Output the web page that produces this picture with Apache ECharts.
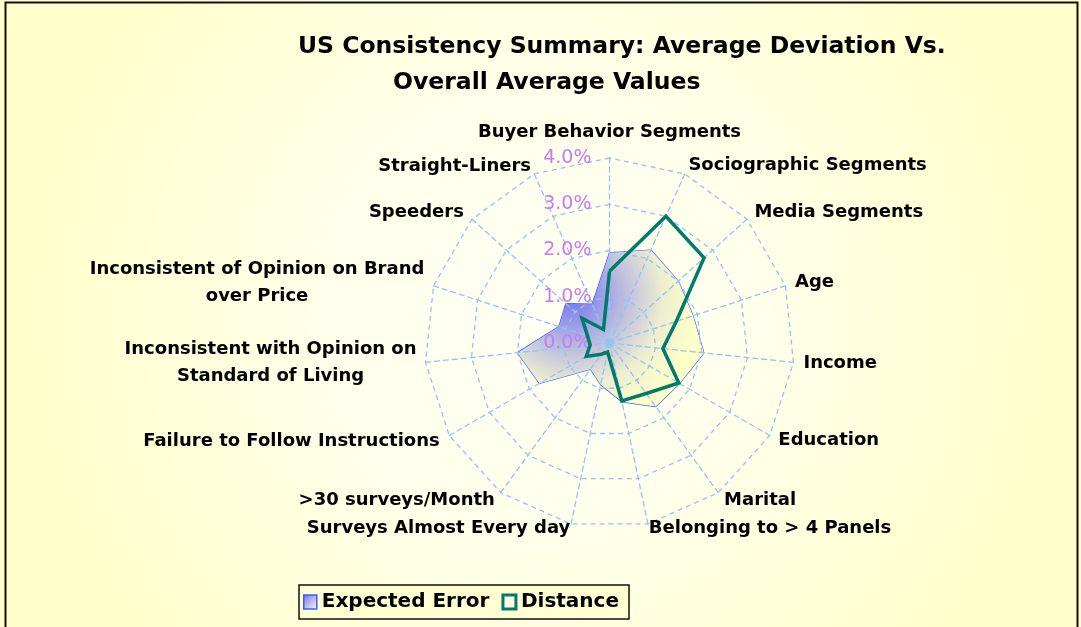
<!DOCTYPE html>
<html><head><meta charset="utf-8">
<script src="https://cdn.jsdelivr.net/npm/echarts@6/dist/echarts.min.js"></script>
<style>html,body{margin:0;padding:0;background:#fff}#c{width:1081px;height:627px}</style>
</head><body><div id="c"></div>
<script>
// ---- data (clockwise from top) ----
const categories = [
  'Buyer Behavior Segments',
  'Sociographic Segments',
  'Media Segments',
  'Age',
  'Income',
  'Education',
  'Marital',
  'Belonging to > 4 Panels',
  'Surveys Almost Every day',
  '>30 surveys/Month',
  'Failure to Follow Instructions',
  'Inconsistent with Opinion on\nStandard of Living',
  'Inconsistent of Opinion on Brand\nover Price',
  'Speeders',
  'Straight-Liners'
];
const expectedError = [1.95, 2.2, 2.0, 1.9, 2.05, 1.75, 1.7, 1.3, 0.92, 0.7, 1.75, 2.0, 1.15, 1.27, 0.92];
const distance      = [1.55, 3.0, 2.75, 1.52, 1.16, 1.73, 1.35, 1.28, 0.2, 0.3, 0.58, 0.42, 0.5, 0.8, 0.32];
const tickLabels = ['0.0%', '1.0%', '2.0%', '3.0%', '4.0%'];
const axisMax = 4;
const titleLines = ['US Consistency Summary: Average Deviation Vs.', 'Overall Average Values'];
const seriesNames = ['Expected Error', 'Distance'];

// label gap from the outer ring (layout only); the two bottom labels sit closer
const nameGaps = [12, 9, 10, 10, 10, 10, 10, 4, 4, 10, 11, 9, 10, 11, 8];

// ECharts radar runs counter-clockwise: reorder so the picture runs clockwise
const order = [0].concat(categories.map((_, i) => i).slice(1).reverse());
const indicator = order.map((i, k) => ({
  name: categories[i], min: 0, max: axisMax, nameGap: nameGaps[i],
  axisLabel: { show: k === 0 }
}));
const eeVals = order.map(i => expectedError[i]);
const diVals = order.map(i => distance[i]);

const BLUE = '#3a5cff', TEAL = '#007b6b', GRID = '#8fc4f6';
const FONT = 'DejaVu Sans';

const chart = echarts.init(document.getElementById('c'), null, { renderer: 'canvas' });
chart.setOption({
  animation: false,
  graphic: [
    { type: 'rect', z: -10, silent: true, shape: { x: 0, y: 0, width: 1081, height: 627 },
      style: { fill: { type: 'radial', x: 0.5, y: 0.5, r: 0.8,
        colorStops: [{ offset: 0, color: '#fffff4' }, { offset: 0.45, color: '#ffffea' }, { offset: 1, color: '#ffffcc' }] } } },
    { type: 'rect', z: 100, silent: true, shape: { x: 5.5, y: 2.5, width: 1072, height: 640 },
      style: { fill: null, stroke: '#111', lineWidth: 2 } }
  ],
  title: [
    { text: titleLines[0], left: 298, top: 34, padding: 0,
      textStyle: { fontFamily: FONT, fontWeight: 'bold', fontSize: 23.5, lineHeight: 26, color: '#000' } },
    { text: titleLines[1], left: 393, top: 70, padding: 0,
      textStyle: { fontFamily: FONT, fontWeight: 'bold', fontSize: 23.5, lineHeight: 26, color: '#000' } }
  ],
  legend: {
    left: 299, top: 585, orient: 'horizontal',
    padding: [7, 10, 7, 4], itemGap: 12, itemWidth: 13, itemHeight: 14, icon: 'rect',
    borderColor: '#111', borderWidth: 1.5, backgroundColor: '#ffffd2',
    textStyle: { fontFamily: FONT, fontWeight: 'bold', fontSize: 20, color: '#000' },
    data: [
      { name: seriesNames[0], itemStyle: { color: { type: 'linear', x: 0, y: 0, x2: 1, y2: 1,
          colorStops: [{ offset: 0, color: '#6f6ff0' }, { offset: 1, color: '#ffffff' }] },
          borderColor: BLUE, borderWidth: 1.5 } },
      { name: seriesNames[1], itemStyle: { color: '#ffffe6', borderColor: TEAL, borderWidth: 3 } }
    ]
  },
  radar: {
    z: 3,
    center: [609.5, 343], radius: 185, startAngle: 90, splitNumber: 4, shape: 'polygon',
    indicator: indicator,
    nameGap: 10,
    axisName: {
      color: '#000', fontFamily: FONT, fontWeight: 'bold', fontSize: 18, lineHeight: 27,
      formatter: function (name) {
        if (name.indexOf('\n') < 0) return name;
        const key = name.indexOf('Brand') >= 0 ? 'a' : 'b';
        return name.split('\n').map(l => '{' + key + '|' + l + '}').join('\n');
      },
      rich: {
        a: { width: 334, align: 'center', fontFamily: FONT, fontWeight: 'bold', fontSize: 18, lineHeight: 27, color: '#000' },
        b: { width: 292, align: 'center', fontFamily: FONT, fontWeight: 'bold', fontSize: 18, lineHeight: 27, color: '#000' }
      }
    },
    axisLine: { lineStyle: { color: GRID, type: [5, 4], width: 1.3 } },
    splitLine: { lineStyle: { color: GRID, type: [5, 4], width: 1.3 } },
    splitArea: { show: false },
    axisTick: { show: false },
    axisLabel: {
      show: false, color: '#c77cf2', fontFamily: FONT, fontSize: 19, margin: 18,
      showMinLabel: true, showMaxLabel: true,
      formatter: v => tickLabels[Math.round(v)]
    }
  },
  series: [
    { type: 'radar', z: 1, symbol: 'none',
      data: [{ name: seriesNames[0], value: eeVals,
        lineStyle: { color: BLUE, width: 1.3 }, itemStyle: { color: BLUE },
        areaStyle: { opacity: 1, color: { type: 'radial', x: 0.3, y: 0.3, r: 0.8,
          colorStops: [{ offset: 0, color: '#7474f0' }, { offset: 0.38, color: '#b8b8e0' },
                       { offset: 0.72, color: '#eeeed0' }, { offset: 1, color: '#ffffc8' }] } } }] },
    { type: 'radar', z: 5, symbol: 'none',
      data: [{ name: seriesNames[1], value: diVals,
        lineStyle: { color: TEAL, width: 3.5, join: 'miter' }, itemStyle: { color: TEAL } }] }
  ]
});
</script></body></html>
